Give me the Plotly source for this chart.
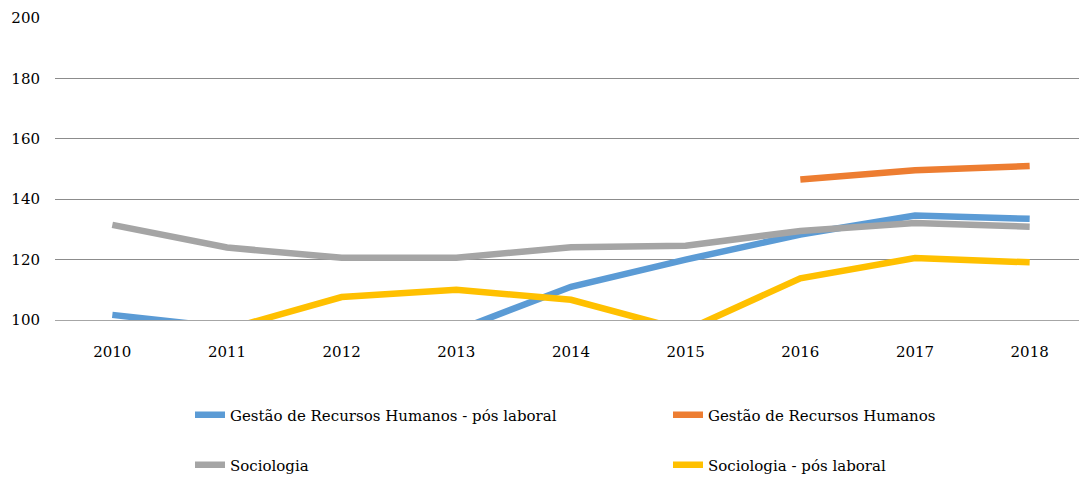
import plotly.graph_objects as go

anos = ["2010", "2011", "2012", "2013", "2014", "2015", "2016", "2017", "2018"]

grh_pos_laboral = [101.7, 97.5, 95.0, 96.5, 111.0, 120.0, 128.3, 134.6, 133.5]
grh = [None, None, None, None, None, None, 146.5, 149.6, 151.0]
sociologia = [131.5, 124.0, 120.6, 120.6, 124.1, 124.6, 129.5, 132.1, 130.9]
sociologia_pos_laboral = [94.0, 96.9, 107.6, 110.0, 106.7, 96.5, 113.8, 120.5, 119.1]

series = [
    ("Gestão de Recursos Humanos - pós laboral", grh_pos_laboral, "#5B9BD5", "legend"),
    ("Gestão de Recursos Humanos", grh, "#ED7D31", "legend2"),
    ("Sociologia", sociologia, "#A5A5A5", "legend3"),
    ("Sociologia - pós laboral", sociologia_pos_laboral, "#FFC000", "legend4"),
]

FONT = "DejaVu Serif"

# a página tem 8px de margem no body: a figura é um pouco menor que a janela
W, H = 1079, 471
L, R, T, B = 47, 0, 10, 159
PW, PH = W - L - R, H - T - B


def legenda(px, py):
    # px, py: posição em pixels da figura
    return dict(
        x=(px - L) / PW,
        y=(H - B - py) / PH,
        xanchor="left",
        yanchor="middle",
        orientation="h",
        font=dict(family=FONT, size=15, color="#000000"),
        bgcolor="rgba(0,0,0,0)",
        itemclick=False,
    )


fig = go.Figure()
for name, vals, color, leg in series:
    fig.add_trace(
        go.Scatter(
            x=anos,
            y=vals,
            mode="lines",
            name=name,
            line=dict(color=color, width=6.5),
            legend=leg,
        )
    )

fig.update_layout(
    width=W,
    height=H,
    margin=dict(l=L, r=R, t=T, b=B, autoexpand=False),
    plot_bgcolor="#ffffff",
    paper_bgcolor="#ffffff",
    font=dict(family=FONT, size=15, color="#000000"),
    showlegend=True,
    legend=legenda(182, 407),
    legend2=legenda(660, 407),
    legend3=legenda(182, 457),
    legend4=legenda(660, 457),
)

fig.update_xaxes(
    type="category",
    range=[-0.5, 8.5],
    showgrid=False,
    showline=True,
    linecolor="#a6a6a6",
    linewidth=1,
    ticks="",
    ticklabelstandoff=18,
    tickfont=dict(family=FONT, size=15, color="#000000"),
)
fig.update_yaxes(
    range=[100, 200],
    dtick=20,
    showgrid=True,
    gridcolor="#8c8c8c",
    gridwidth=1,
    zeroline=False,
    showline=False,
    ticks="",
    ticklabelstandoff=14,
    tickfont=dict(family=FONT, size=15, color="#000000"),
)

fig.write_html("out.html")
